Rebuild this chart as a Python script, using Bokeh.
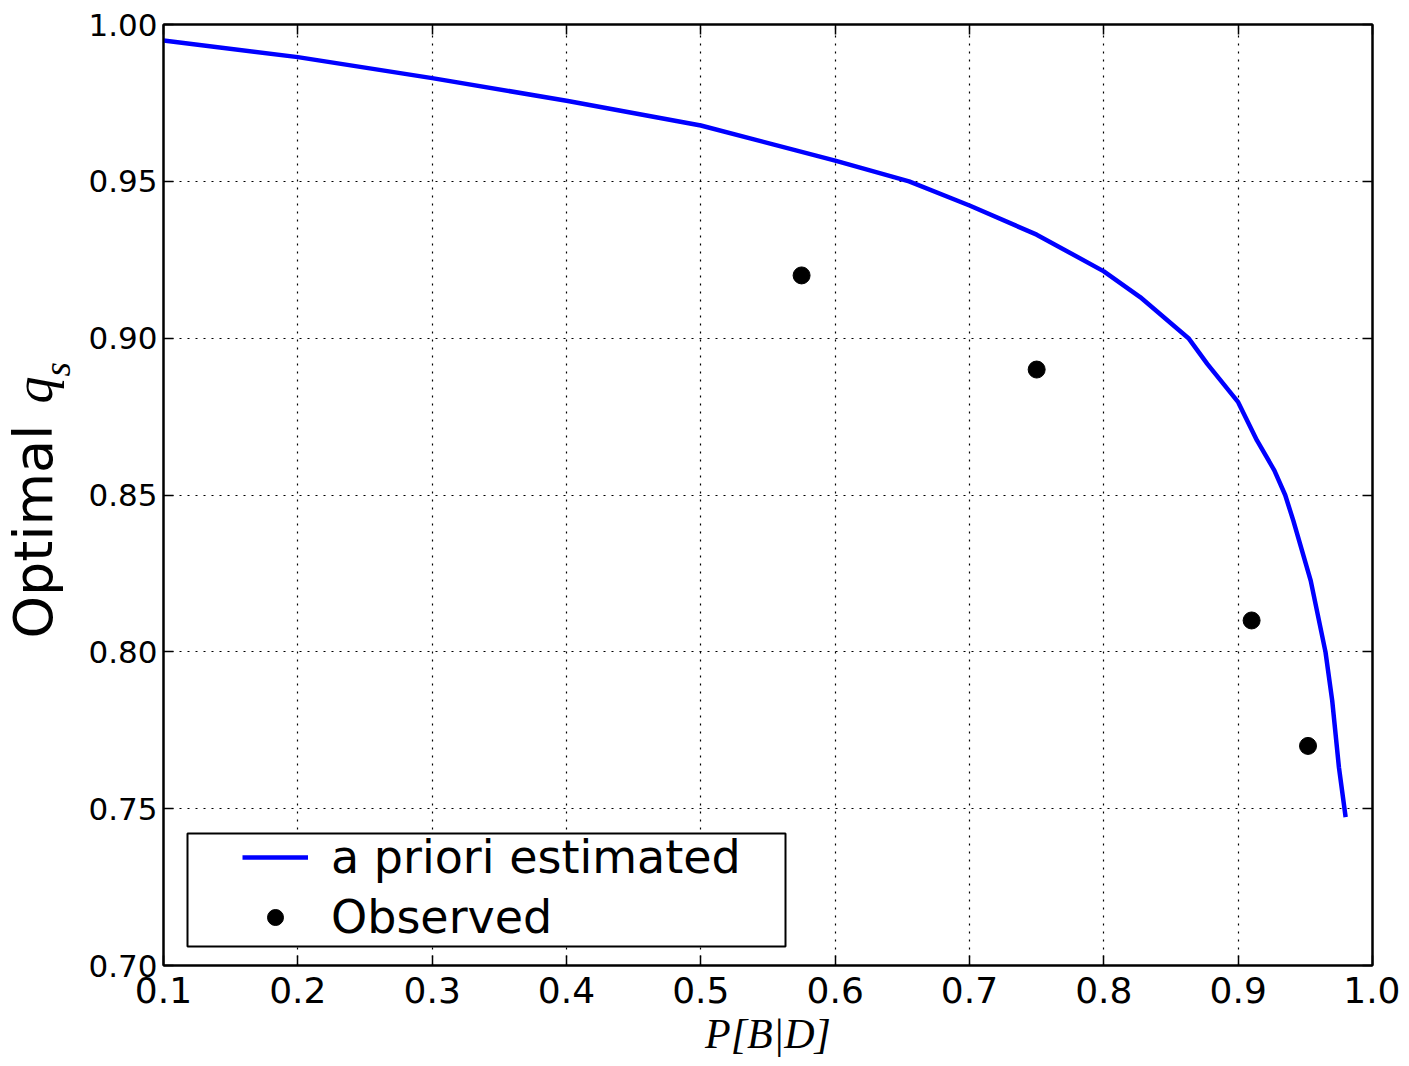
import math
from bokeh.plotting import figure
from bokeh.layouts import row
from bokeh.models import (Range1d, FixedTicker, NumeralTickFormatter, LinearAxis,
                          Legend, LegendItem, BoxAnnotation, CustomJSTickFormatter)
from bokeh.core.properties import value
from bokeh.embed import file_html
from bokeh.resources import INLINE

# ---- data ----
curve_x = [0.1, 0.2, 0.3, 0.4, 0.5, 0.6, 0.655, 0.7, 0.75, 0.8, 0.827, 0.863,
           0.877, 0.9, 0.914, 0.927, 0.935, 0.941, 0.954, 0.965, 0.970, 0.975, 0.980]
curve_y = [0.9949, 0.9896, 0.9829, 0.9757, 0.9678, 0.9566, 0.95, 0.9423, 0.933,
           0.9213, 0.9131, 0.90, 0.8918, 0.8796, 0.8674, 0.8578, 0.85, 0.8419,
           0.8227, 0.80, 0.7845, 0.7632, 0.7473]
obs_x = [0.575, 0.75, 0.91, 0.952]
obs_y = [0.92, 0.89, 0.81, 0.77]
x_ticks = [0.1, 0.2, 0.3, 0.4, 0.5, 0.6, 0.7, 0.8, 0.9, 1.0]
y_ticks = [0.70, 0.75, 0.80, 0.85, 0.90, 0.95, 1.00]
curve_label = "a priori estimated"
obs_label = "Observed"
x_title = "P[B|D]"
y_title_word = "Optimal"
y_title_sym = "q"
y_title_sub = "s"

H = 1066
LAB_W = 80
F_TOP, F_BOT = 24, 965   # frame edges in page pixels

p = figure(width=1400 - LAB_W, height=H, output_backend="svg", toolbar_location=None,
           x_range=Range1d(0.1, 1.0), y_range=Range1d(0.70, 1.00),
           min_border_left=163 - LAB_W, min_border_right=28, min_border_top=F_TOP,
           min_border_bottom=H - F_BOT)
p.background_fill_color = "white"
p.border_fill_color = "white"
p.outline_line_color = "black"
p.outline_line_width = 2

SANS = "DejaVu Sans"

def style_axis(ax, ticks, fmt, size, standoff):
    ax.ticker = FixedTicker(ticks=ticks)
    ax.major_tick_in = 10
    ax.major_tick_out = 0
    ax.minor_tick_in = 0
    ax.minor_tick_out = 0
    ax.major_tick_line_color = "black"
    ax.major_tick_line_width = 1.5
    ax.axis_line_color = "black"
    ax.axis_line_width = 2
    ax.major_label_text_font = SANS
    ax.major_label_text_color = "black"
    ax.major_label_standoff = standoff
    if fmt is None:
        ax.formatter = CustomJSTickFormatter(code="return ''")
        ax.major_label_standoff = 0
    else:
        ax.formatter = NumeralTickFormatter(format=fmt)
        ax.major_label_text_font_size = size

style_axis(p.xaxis[0], x_ticks, "0.0", "36px", 11)
style_axis(p.yaxis[0], y_ticks, "0.00", "31px", 6)
p.xaxis[0].axis_label = x_title
p.xaxis[0].axis_label_text_font = "Liberation Serif"
p.xaxis[0].axis_label_text_font_style = "italic"
p.xaxis[0].axis_label_text_font_size = "42px"
p.xaxis[0].axis_label_text_color = "black"
p.xaxis[0].axis_label_standoff = 5

top_ax = LinearAxis()
right_ax = LinearAxis()
style_axis(top_ax, x_ticks, None, None, 0)
style_axis(right_ax, y_ticks, None, None, 0)
p.add_layout(top_ax, "above")
p.add_layout(right_ax, "right")

p.xgrid.ticker = FixedTicker(ticks=x_ticks)
p.ygrid.ticker = FixedTicker(ticks=y_ticks)
for g in (p.xgrid, p.ygrid):
    g.grid_line_color = "black"
    g.grid_line_width = 1.2
    g.grid_line_dash = "2 6"

line_r = p.line(curve_x, curve_y, line_color="#0000ff", line_width=4.5)
pts_r = p.scatter(obs_x, obs_y, size=17, fill_color="black", line_color="black",
                  marker="circle")

# legend frame
box = BoxAnnotation(left=24, right=622, bottom=19, top=132,
                    left_units="screen", right_units="screen",
                    bottom_units="screen", top_units="screen",
                    fill_color="white", fill_alpha=1.0,
                    line_color="black", line_width=2, line_alpha=1.0)
p.add_layout(box)

legend = Legend(items=[LegendItem(label=curve_label, renderers=[line_r]),
                       LegendItem(label=obs_label, renderers=[pts_r])],
                location=(79, 21), margin=0, padding=0, spacing=6,
                glyph_width=66, glyph_height=40, label_standoff=23,
                label_text_font=SANS, label_text_font_size="46px",
                label_text_color="black",
                border_line_alpha=0, background_fill_alpha=0)
p.add_layout(legend, "center")

# left strip holding the y-axis title (real text); its frame matches the
# main frame vertically so data y == page distance from the bottom (H - page_y)
lab = figure(width=LAB_W, height=H, output_backend="svg", toolbar_location=None,
             x_range=Range1d(0, LAB_W), y_range=Range1d(H - F_BOT, H - F_TOP),
             x_axis_location=None, y_axis_location=None,
             min_border_left=0, min_border_right=0,
             min_border_top=F_TOP, min_border_bottom=H - F_BOT)
lab.outline_line_color = None
lab.grid.visible = False
lab.background_fill_color = "white"
lab.border_fill_color = "white"

lab.text(x=[33], y=[H - 638], text=[y_title_word], angle=math.pi / 2,
         text_font=value(SANS), text_font_size="54px", text_align="left",
         text_baseline="alphabetic", text_color="black")
lab.text(x=[33], y=[H - 403], text=[y_title_sym], angle=math.pi / 2,
         text_font=value("Liberation Serif"), text_font_style="italic",
         text_font_size="54px", text_align="left",
         text_baseline="alphabetic", text_color="black")
lab.text(x=[57], y=[H - 376], text=[y_title_sub], angle=math.pi / 2,
         text_font=value("Liberation Serif"), text_font_style="italic",
         text_font_size="37px", text_align="left",
         text_baseline="alphabetic", text_color="black")

layout = row(lab, p, spacing=0)
open("out.html", "w").write(file_html(layout, INLINE))
